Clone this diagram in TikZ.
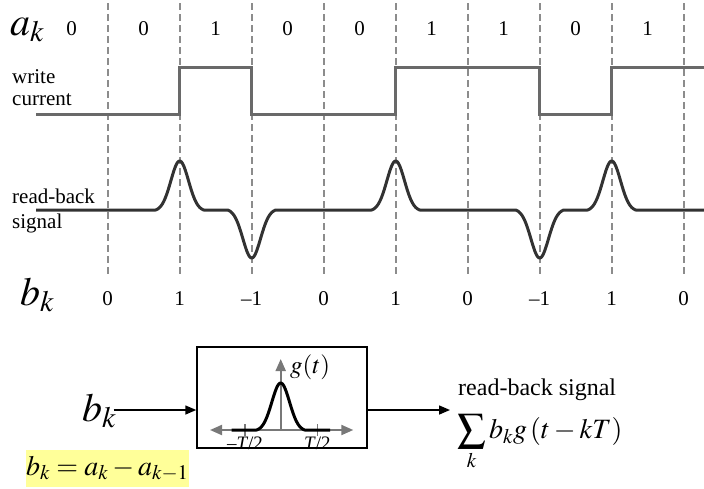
\documentclass[tikz,border=0pt]{standalone}
\usepackage{mathptmx}
\usepackage[no-math]{fontspec}
\setmainfont{Liberation Serif}
\usetikzlibrary{arrows.meta}
\definecolor{wgray}{RGB}{105,105,105}
\definecolor{rgray}{RGB}{50,50,50}
\definecolor{dgray}{RGB}{140,140,140}
\definecolor{agray}{RGB}{120,120,120}
\definecolor{hl}{RGB}{255,255,153}
\begin{document}
\begin{tikzpicture}[x=1pt,y=-1pt,
 declare function={pf(\x)=(exp(-(\x/12.5)*(\x/12.5))-exp(-3.6864))/(1-exp(-3.6864));},
 grid/.style={draw=dgray,line width=1.7pt,dash pattern=on 7pt off 4pt},
 wave/.style={draw=wgray,line width=3pt},
 rb/.style={draw=rgray,line width=3pt,line join=round},
 lbl/.style={inner sep=0pt,anchor=base west,font=\fontsize{21}{25}\selectfont},
 val/.style={inner sep=0pt,font=\fontsize{21}{25}\selectfont},
 conn/.style={draw=black,line width=1.5pt,-{Triangle[length=11pt,width=9pt]}},
 ax/.style={draw=agray,line width=2pt,-{Triangle[length=12pt,width=10pt]}},
 tick/.style={draw=agray,line width=1.5pt},
 tlab/.style={inner sep=0pt,anchor=north,font=\fontsize{19}{22}\selectfont},
 ]
\useasboundingbox (0,0) rectangle (704,488);
% dashed bit-boundary lines
\foreach \i in {0,...,8} \draw[grid] (107.7+72*\i,3) -- (107.7+72*\i,277);
% a_k row
\node[inner sep=0pt,anchor=base west,font=\fontsize{40}{44}\selectfont] (ak) at (10,35) {$a_k$};
\foreach \v [count=\i from 0] in {0,0,1,0,0,1,1,0,1}
  \node[val] (a\i) at (71.7+72*\i,28.5) {\v};
% write current
\node[lbl] (wc1) at (12,83) {write};
\node[lbl] (wc2) at (12,105) {current};
\draw[wave] (36,114) -- (179.7,114) -- (179.7,67) -- (251.7,67) -- (251.7,114)
  -- (395.7,114) -- (395.7,67) -- (539.7,67) -- (539.7,114) -- (611.7,114)
  -- (611.7,67) -- (704,67);
% read-back signal
\node[lbl] (rs1) at (12,203) {read-back};
\node[lbl] (rs2) at (12,228) {signal};
\draw[rb] (36,210)
  -- plot[domain=-24:24,samples=61] ({179.7+\x},{210-49*pf(\x)})
  -- plot[domain=-24:24,samples=61] ({251.7+\x},{210+48*pf(\x)})
  -- plot[domain=-24:24,samples=61] ({395.7+\x},{210-49*pf(\x)})
  -- plot[domain=-24:24,samples=61] ({539.7+\x},{210+48*pf(\x)})
  -- plot[domain=-24:24,samples=61] ({611.7+\x},{210-49*pf(\x)})
  -- (704,210);
% b_k row
\node[inner sep=0pt,anchor=base west,font=\fontsize{40}{44}\selectfont] (bk) at (20,305) {$b_k$};
\foreach \v [count=\i from 0] in {0,1,–1,0,1,0,–1,1,0}
  \node[val] (b\i) at (107.7+72*\i,299) {\v};
% block diagram
\node[draw,line width=1.5pt,minimum width=170pt,minimum height=101pt,inner sep=0pt] (box) at (282,397.5) {};
\node[inner sep=0pt,anchor=base west,font=\fontsize{40}{44}\selectfont] (bin) at (82,421) {$b_k$};
\coordinate (inY) at (0,410);
\node[inner sep=0pt,anchor=base west,font=\fontsize{24}{28}\selectfont] (rbl) at (458,395) {read-back signal};
\node[inner sep=0pt,anchor=north west,font=\fontsize{28}{32}\selectfont] (sum) at (457,414) {$\displaystyle\sum_k b_k g\left(t-kT\right)$};
\draw[conn] ([xshift=-3pt]bin.east |- inY) -- (box.west |- inY);
\draw[conn] (box.east |- inY) -- ([xshift=-8pt]rbl.west |- inY);
% inner g(t) sketch
\coordinate (o) at (280.7,430);
\draw[ax] (o) -- (210,430);
\draw[ax] (o) -- (353.3,430);
\draw[ax] (o) -- (280.7,359);
\draw[tick] (245,424) -- (245,436);
\draw[tick] (317.3,424) -- (317.3,436);
\draw[black,line width=3pt,line join=round] (231.7,430)
  -- plot[domain=-24:24,samples=61] ({280.7+\x},{430-47*pf(\x)})
  -- (330,430);
\node[tlab] (lt) at (245,437) {–\textit{T}/2};
\node[tlab] (rt) at (317.3,437) {\textit{T}/2};
\node[inner sep=0pt,anchor=base west,font=\fontsize{25}{28}\selectfont] (gt) at (290,373) {$g(t)$};
% formula
\node[fill=hl,inner sep=0pt,anchor=north west,minimum width=146pt,minimum height=37pt,font=\fontsize{28}{32}\selectfont] (eq) at (26,450) {$b_k=a_k-a_{k-1}$};
\end{tikzpicture}
\end{document}
